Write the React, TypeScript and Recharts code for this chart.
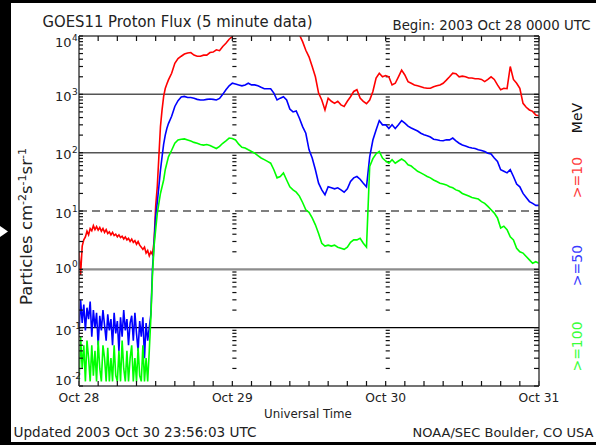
import { LineChart, Line, XAxis, YAxis, ReferenceLine } from "recharts"

const W = 596
const H = 445
const FONT = "'DejaVu Sans', sans-serif"
const INK = "#222"
const TICK = "#111"

// sample times, hours since 2003 Oct 28 0000 UTC
const hours = [
  ...Array.from({ length: 57 }, (_, i) => i * 0.25),
  ...Array.from({ length: 116 }, (_, i) => 14.5 + i * 0.5),
]

const dayHours = [0, 24, 48, 72]
const dayLabels = ["Oct 28", "Oct 29", "Oct 30", "Oct 31"]
const xTicks = [0, 3, 6, 9, 12, 15, 18, 21, 24, 27, 30, 33, 36, 39, 42, 45, 48, 51, 54, 57, 60, 63, 66, 69, 72]

const decades = [0.01, 0.1, 1, 10, 100, 1000, 10000]
const minorTicks = [
  0.02, 0.03, 0.04, 0.05, 0.06, 0.07, 0.08, 0.09,
  0.2, 0.3, 0.4, 0.5, 0.6, 0.7, 0.8, 0.9,
  2, 3, 4, 5, 6, 7, 8, 9,
  20, 30, 40, 50, 60, 70, 80, 90,
  200, 300, 400, 500, 600, 700, 800, 900,
  2000, 3000, 4000, 5000, 6000, 7000, 8000, 9000,
]
const yTicks = [...decades, ...minorTicks].sort((a, b) => a - b)

// >=10 MeV (red)
const p10Early = [
  2.0, 0.8, 2.5, 3.2, 3.6, 4.5, 3.9, 5.0, 4.6, 5.6,
  4.8, 5.4, 4.7, 5.2, 4.5, 5.0, 4.3, 4.8, 4.1, 4.4,
  3.9, 4.3, 3.8, 4.0, 3.6, 3.9, 3.5, 3.7, 3.3, 3.6,
  3.2, 3.4, 3.0, 3.3, 2.9, 3.1, 2.7, 3.0, 2.6, 2.4,
  2.2, 2.4, 1.9, 2.1, 1.7, 2.0, 1.8, 3.0, 12, 26,
  85, 280, 540, 920, 1260, 1500, 1770,
]
const p10Late = [
  2300, 3400, 4100, 4500, 4900, 5100, 5200, 4700, 4500, 4500,
  4700, 4700, 5200, 5300, 5800, 5600, 6600, 7500, 8800, 9800,
  11500, 13000, 15000, 17000, 19000, 21000, 23000, 25000, 27000, 28000,
  29000, 28000, 26000, 24000, 22000, 19000, 17000, 15000, 13000, 12000,
  10500, 8000, 5700, 4400, 3000, 2000, 1050, 800, 540, 860,
  760, 700, 760, 660, 620, 760, 910, 1120, 1200, 860,
  760, 690, 800, 1120, 1900, 2300, 2000, 2100, 2000, 1450,
  1550, 2000, 2600, 2150, 1650, 1550, 1450, 1400, 1350, 1300,
  1270, 1270, 1350, 1400, 1450, 1550, 1750, 2000, 2300, 2250,
  2000, 2050, 2000, 1900, 1900, 1850, 1850, 1800, 1650, 1800,
  2000, 1800, 1450, 1200, 1270, 1250, 3000, 1800, 1550, 1270,
  700, 600, 540, 510, 440, 430,
]

// >=50 MeV (blue)
const p50Early = [
  0.08, 0.3, 0.12, 0.25, 0.09, 0.22, 0.14, 0.28, 0.07, 0.2,
  0.1, 0.18, 0.05, 0.16, 0.09, 0.2, 0.11, 0.06, 0.17, 0.09,
  0.14, 0.05, 0.18, 0.08, 0.13, 0.04, 0.15, 0.07, 0.2, 0.09,
  0.14, 0.05, 0.12, 0.16, 0.06, 0.18, 0.08, 0.04, 0.13, 0.07,
  0.15, 0.03, 0.12, 0.06, 0.1, 0.17, 1.0, 2.8, 8, 14,
  26, 50, 85, 140, 200, 260, 315,
]
const p50Late = [
  420, 620, 780, 900, 920, 880, 880, 860, 820, 800,
  800, 820, 830, 820, 800, 850, 1000, 1200, 1400, 1550,
  1500, 1450, 1400, 1450, 1550, 1450, 1450, 1400, 1320, 1250,
  1250, 1250, 1050, 800, 860, 910, 800, 560, 500, 520,
  390, 280, 215, 113, 81, 51, 30, 23, 19, 26,
  25, 24, 25, 23, 21, 24, 32, 37, 39, 35,
  30, 26, 85, 165, 245, 355, 300, 300, 260, 300,
  260, 300, 355, 320, 285, 265, 250, 235, 215, 203,
  195, 185, 170, 166, 162, 160, 166, 166, 178, 160,
  145, 135, 130, 124, 120, 118, 112, 109, 105, 98,
  95, 81, 71, 51, 48, 45, 51, 39, 29, 26,
  20, 17, 14.5, 13.5, 12.5, 12.5,
]

// >=100 MeV (green)
const p100Early = [
  0.012, 0.07, 0.02, 0.05, 0.012, 0.06, 0.03, 0.012, 0.05, 0.015,
  0.04, 0.012, 0.06, 0.02, 0.012, 0.05, 0.03, 0.012, 0.045, 0.012,
  0.03, 0.012, 0.05, 0.015, 0.012, 0.04, 0.012, 0.06, 0.02, 0.012,
  0.04, 0.012, 0.03, 0.05, 0.012, 0.03, 0.012, 0.045, 0.015, 0.012,
  0.05, 0.012, 0.03, 0.012, 0.04, 0.15, 0.8, 2.5, 4.8, 9,
  13.5, 20, 26, 34, 51, 66, 85,
]
const p100Late = [
  110, 145, 165, 170, 172, 165, 158, 150, 145, 138,
  135, 138, 133, 125, 118, 128, 145, 160, 178, 175,
  165, 140, 124, 120, 112, 105, 98, 89, 81, 76,
  71, 66, 51, 37, 39, 45, 34, 26, 23, 21,
  18, 14, 10.5, 9.5, 7.6, 5.8, 4.1, 2.8, 2.5, 2.6,
  2.5, 2.6, 2.4, 2.3, 2.2, 2.4, 2.9, 3.2, 3.2, 3.4,
  2.8, 2.4, 58, 79, 96, 105, 81, 72, 66, 76,
  66, 72, 78, 72, 62, 59, 53, 48, 45, 42,
  39, 37, 34, 32, 30, 29, 28, 26, 25, 23,
  22, 20, 19, 18, 17, 16.5, 16, 14.5, 13.5, 12,
  10.5, 9.2, 7.6, 5.1, 5.5, 4.8, 3.6, 3.2, 2.3, 2.0,
  1.9, 1.66, 1.45, 1.27, 1.35, 1.27,
]

const p10 = [...p10Early, ...p10Late]
const p50 = [...p50Early, ...p50Late]
const p100 = [...p100Early, ...p100Late]

const rows = hours.map((h, i) => ({ h, p10: p10[i], p50: p50[i], p100: p100[i] }))

// baseline offsets of the decade labels, as placed in the original
const labelDy: Record<number, number> = { 4: 11, 3: 7, 2: 6.5, 1: 6.5, 0: 3.5, [-1]: 7, [-2]: -1 }

function BottomTick({ x, payload }: any) {
  const day = dayHours.indexOf(payload.value)
  if (day < 0) return <g />
  return (
    <text x={x} y={402} textAnchor="middle" fontSize={12.3} fontFamily={FONT} fill={INK}>
      {dayLabels[day]}
    </text>
  )
}

function LeftTick({ y, payload }: any) {
  const v = payload.value
  if (!decades.includes(v)) return <g />
  const exp = Math.round(Math.log10(v))
  const by = y + labelDy[exp]
  return (
    <g fontFamily={FONT} fill={INK}>
      <text x={71.5} y={by} textAnchor="end" fontSize={13}>10</text>
      <text x={72} y={by - 6} fontSize={9}>{String(exp)}</text>
    </g>
  )
}

const axisIds = { xAxisId: "b", yAxisId: "l" }
const frame = { stroke: "#444", strokeWidth: 1.5 }
const tickLine = { stroke: TICK, strokeWidth: 1.2 }

export default function App() {
  return (
    <div style={{ position: "absolute", left: 0, top: 0, width: W, height: H, background: "#fff", overflow: "hidden" }}>
      <LineChart width={W} height={H} data={rows} margin={{ top: 30, right: 47, bottom: 29, left: 19 }}>
        {/* negative tick sizes turn the tick marks inward, as in the original frame */}
        <XAxis
          xAxisId="b"
          dataKey="h"
          type="number"
          domain={[0, 72]}
          ticks={xTicks}
          interval={0}
          height={30}
          allowDataOverflow
          axisLine={frame}
          tickLine={tickLine}
          tickSize={-5}
          tick={<BottomTick />}
        />
        <XAxis
          xAxisId="t"
          orientation="top"
          dataKey="h"
          type="number"
          domain={[0, 72]}
          ticks={xTicks}
          interval={0}
          height={6}
          allowDataOverflow
          axisLine={frame}
          tickLine={tickLine}
          tickSize={-5}
          tick={<g />}
        />
        <YAxis
          yAxisId="l"
          type="number"
          scale="log"
          domain={[0.01, 10000]}
          allowDataOverflow
          ticks={yTicks}
          interval={0}
          width={60}
          axisLine={frame}
          tickLine={tickLine}
          tickSize={-4}
          tick={<LeftTick />}
        />
        <YAxis
          yAxisId="r"
          orientation="right"
          type="number"
          scale="log"
          domain={[0.01, 10000]}
          allowDataOverflow
          ticks={yTicks}
          interval={0}
          width={10}
          axisLine={frame}
          tickLine={tickLine}
          tickSize={-5}
          tick={<g />}
        />

        {/* minor log ticks along the two day boundaries */}
        {minorTicks.map((v) => (
          <ReferenceLine key={`d1${v}`} {...axisIds} ifOverflow="visible" segment={[{ x: 24, y: v }, { x: 24.65, y: v }]} stroke={TICK} strokeWidth={1.2} />
        ))}
        {minorTicks.map((v) => (
          <ReferenceLine key={`d2${v}`} {...axisIds} ifOverflow="visible" segment={[{ x: 48, y: v }, { x: 48.65, y: v }]} stroke={TICK} strokeWidth={1.2} />
        ))}

        <ReferenceLine {...axisIds} y={1000} stroke="#555" strokeWidth={1.5} />
        <ReferenceLine {...axisIds} y={100} stroke="#555" strokeWidth={1.5} />
        <ReferenceLine {...axisIds} y={10} stroke="#000" strokeWidth={1.2} strokeDasharray="8 5" />
        <ReferenceLine {...axisIds} y={1} stroke="#8c8c8c" strokeWidth={2.2} />
        <ReferenceLine {...axisIds} y={0.1} stroke="#000" strokeWidth={1.2} />

        <Line {...axisIds} dataKey="p10" stroke="#ff0000" strokeWidth={1.6} dot={false} isAnimationActive={false} />
        <Line {...axisIds} dataKey="p50" stroke="#0000ff" strokeWidth={1.6} dot={false} isAnimationActive={false} />
        <Line {...axisIds} dataKey="p100" stroke="#00ff00" strokeWidth={1.6} dot={false} isAnimationActive={false} />
      </LineChart>

      <svg width={W} height={H} style={{ position: "absolute", left: 0, top: 0, pointerEvents: "none" }}>
        <rect x={0} y={0} width={W} height={3} fill="#000" />
        <rect x={0} y={0} width={11} height={H} fill="#000" />
        <rect x={0} y={442} width={W} height={3} fill="#000" />
        <polygon points="0,226 8,231.5 0,237" fill="#fff" />

        <g fontFamily={FONT} fill={INK}>
          <text x={42.5} y={27} fontSize={15.5} textLength={270} lengthAdjust="spacingAndGlyphs">
            GOES11 Proton Flux (5 minute data)
          </text>
          <text x={392.5} y={30} fontSize={13.5} textLength={198} lengthAdjust="spacingAndGlyphs">
            Begin: 2003 Oct 28 0000 UTC
          </text>
          <text x={308} y={418} fontSize={11.8} textAnchor="middle">
            Universal Time
          </text>
          <text x={13.5} y={437} fontSize={13.2} textLength={243} lengthAdjust="spacingAndGlyphs">
            Updated 2003 Oct 30 23:56:03 UTC
          </text>
          <text x={412.5} y={437} fontSize={12.4} textLength={181} lengthAdjust="spacingAndGlyphs">
            NOAA/SEC Boulder, CO USA
          </text>
          <text transform="translate(32,226.5) rotate(-90)" textAnchor="middle" fontSize={16.5}>
            Particles cm<tspan dy={-6.5} fontSize={11}>-2</tspan>
            <tspan dy={6.5}>s</tspan>
            <tspan dy={-6.5} fontSize={11}>-1</tspan>
            <tspan dy={6.5}>sr</tspan>
            <tspan dy={-6.5} fontSize={11}>-1</tspan>
          </text>
        </g>

        <g fontFamily={FONT} fontSize={14} textAnchor="middle">
          <text transform="translate(582,118) rotate(-90)" fill="#111">MeV</text>
          <text transform="translate(582,177.5) rotate(-90)" fill="#ff3a3a">&gt;=10</text>
          <text transform="translate(582,265.5) rotate(-90)" fill="#3a3aff">&gt;=50</text>
          <text transform="translate(582,346.5) rotate(-90)" fill="#3aff3a">&gt;=100</text>
        </g>
      </svg>
    </div>
  )
}
